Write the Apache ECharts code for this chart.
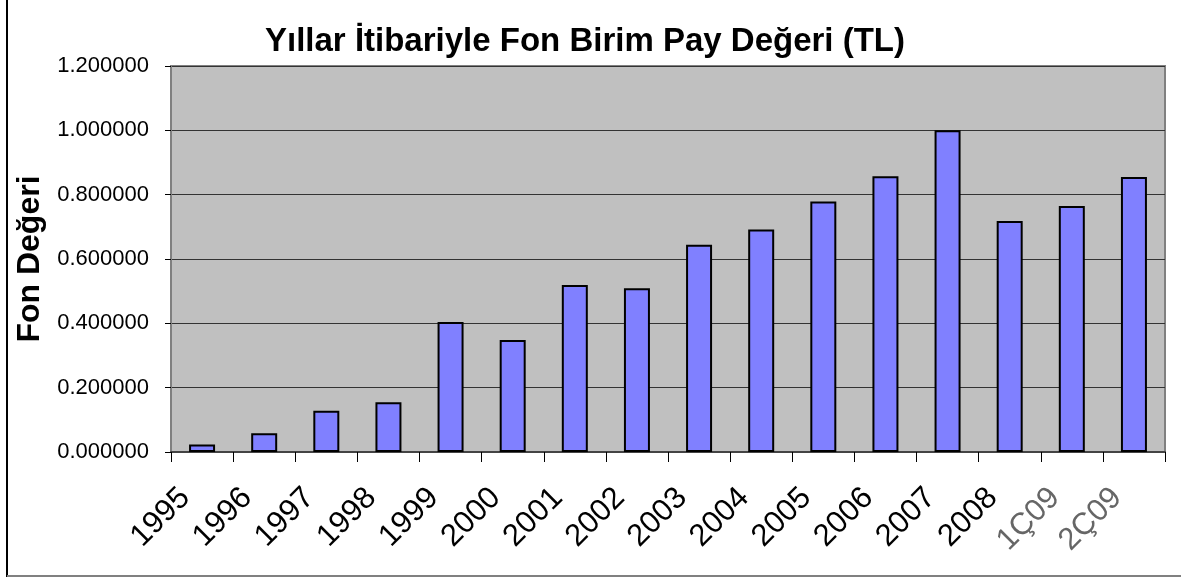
<!DOCTYPE html>
<html>
<head>
<meta charset="utf-8">
<script src="https://cdn.jsdelivr.net/npm/echarts@6/dist/echarts.min.js"></script>
<style>
  html, body { margin: 0; padding: 0; background: #fff; }
  #chart { width: 1181px; height: 577px; }
</style>
</head>
<body>
<div id="chart"></div>
<script>
// yıllar / dönemler
var years = ['1995', '1996', '1997', '1998', '1999', '2000', '2001', '2002',
             '2003', '2004', '2005', '2006', '2007', '2008', '1Ç09', '2Ç09'];
// fon birim pay değeri (TL)
var values = [0.023, 0.058, 0.128, 0.155, 0.404, 0.348, 0.519, 0.509,
              0.644, 0.692, 0.779, 0.857, 1.000, 0.718, 0.765, 0.855];
var yTicks = [0, 0.2, 0.4, 0.6, 0.8, 1.0, 1.2];
// çeyrek etiketleri gri görünüyor
var greyLabels = ['1Ç09', '2Ç09'];

var font = 'Liberation Sans, Arial, sans-serif';

var option = {
    animation: false,
    title: {
        text: 'Yıllar İtibariyle Fon Birim Pay Değeri (TL)',
        left: 260,
        top: 20,
        textStyle: { fontFamily: font, fontSize: 33, fontWeight: 'bold', color: '#000' }
    },
    grid: {
        left: 171, right: 16, top: 66, bottom: 125,
        show: true,
        backgroundColor: '#C0C0C0',
        borderColor: '#808080',
        borderWidth: 2
    },
    xAxis: {
        type: 'category',
        data: years.map(function (y) {
            if (greyLabels.indexOf(y) >= 0) {
                return { value: y, textStyle: { color: '#666' } };
            }
            return y;
        }),
        axisLine: { lineStyle: { color: '#444', width: 2 } },
        axisTick: { show: true, interval: 0, length: 10, lineStyle: { color: '#000', width: 1 } },
        axisLabel: {
            interval: 0,
            rotate: 45,
            margin: 24,
            padding: [0, 24, 0, 0],
            fontFamily: font,
            fontSize: 31,
            color: '#000'
        }
    },
    yAxis: {
        type: 'value',
        min: yTicks[0],
        max: yTicks[yTicks.length - 1],
        interval: 0.2,
        name: 'Fon Değeri',
        nameLocation: 'middle',
        nameGap: 122,
        nameTextStyle: { fontFamily: font, fontSize: 32, fontWeight: 'bold', color: '#000' },
        axisLine: { show: true, lineStyle: { color: '#808080', width: 2 } },
        axisTick: { show: true, length: 6, lineStyle: { color: '#000' } },
        axisLabel: {
            margin: 22,
            fontFamily: font,
            fontSize: 22,
            color: '#000',
            formatter: function (v) { return v.toFixed(6); }
        },
        splitLine: { show: true, lineStyle: { color: '#333', width: 1 } }
    },
    series: [{
        type: 'bar',
        data: values,
        barWidth: 26,
        itemStyle: { color: '#8080FF', borderColor: '#000', borderWidth: 2 }
    }],
    graphic: [
        { type: 'line', shape: { x1: 7, y1: 0, x2: 7, y2: 577 }, style: { stroke: '#000', lineWidth: 2 } },
        { type: 'line', shape: { x1: 7, y1: 576, x2: 1181, y2: 576 }, style: { stroke: '#808080', lineWidth: 2 } }
    ]
};

var chart = echarts.init(document.getElementById('chart'));
chart.setOption(option);
window.onresize = function () {
    chart.resize();
};
</script>
</body>
</html>
